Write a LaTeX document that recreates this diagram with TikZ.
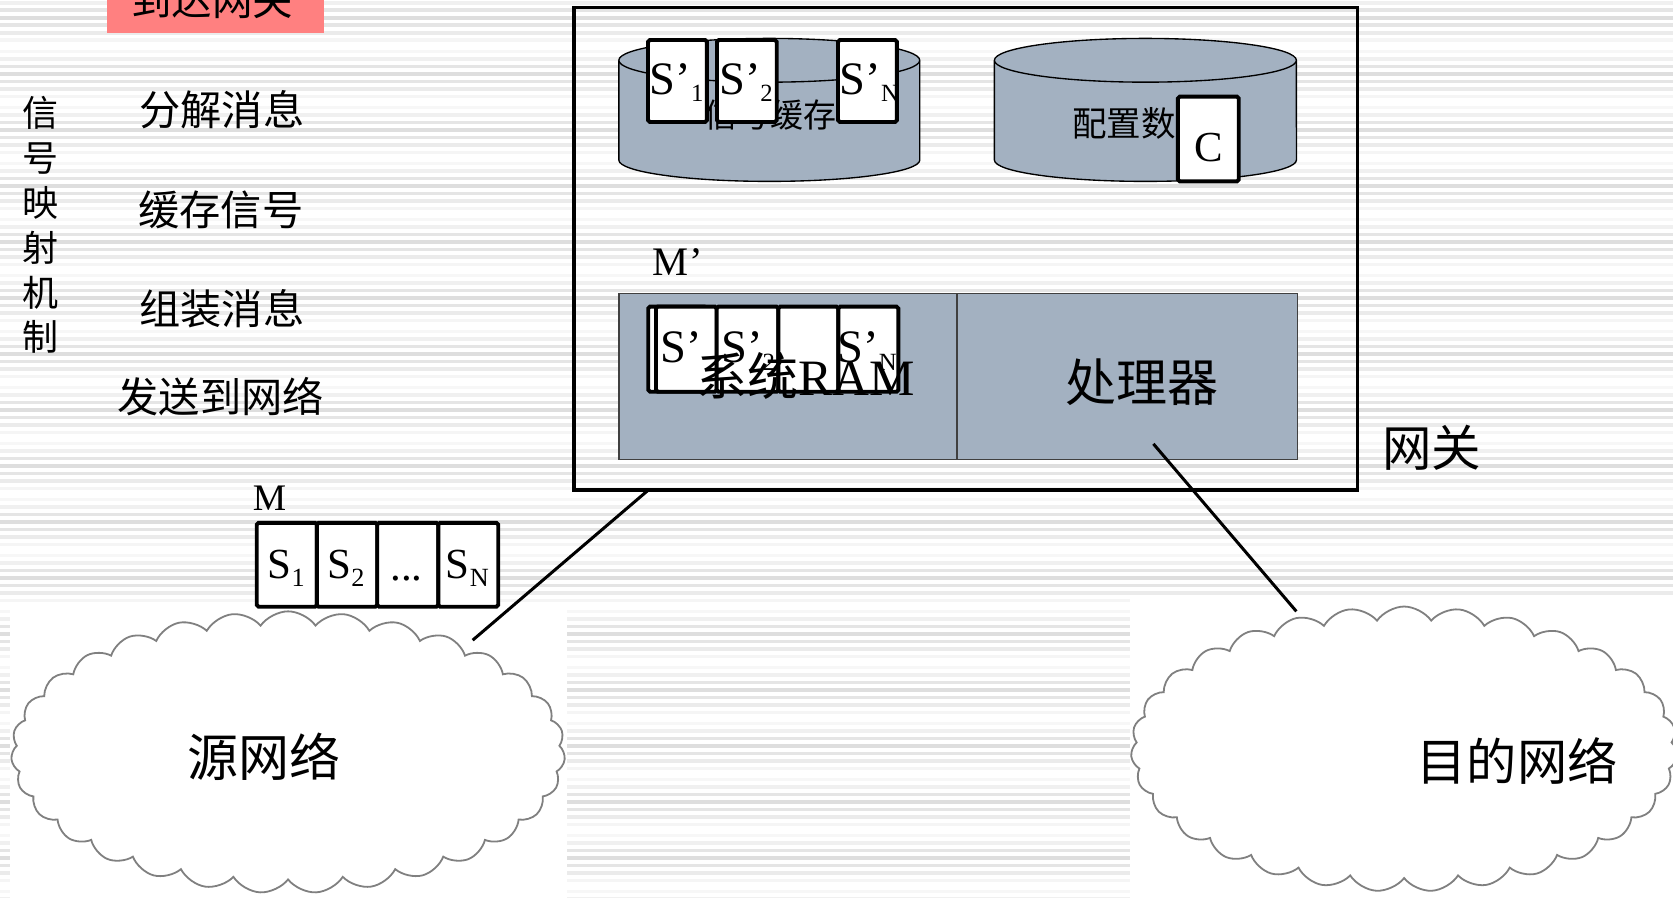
\documentclass[tikz,border=0pt]{standalone}
\usepackage{fontspec}
\setmainfont{Liberation Serif}
\newfontfamily\cjk{Noto Sans CJK SC}
\usetikzlibrary{shapes.symbols}
\definecolor{cylfill}{HTML}{A3B1C1}
\definecolor{redfill}{HTML}{FF8080}
\definecolor{cloudgray}{HTML}{808080}
\newcommand\sz[1]{\fontsize{#1}{#1}\selectfont}
\tikzset{
  lbl/.style={inner sep=0pt, outer sep=0pt},
  cjklbl/.style={lbl, font=\cjk},
  cellbox/.style={draw=black, fill=white, line width=2.6pt, rounded corners=1.2pt, anchor=north west, inner sep=0pt, outer sep=0pt},
  gwframe/.style={draw=black, line width=2.2pt, anchor=north west, inner sep=0pt, outer sep=0pt},
  unitbox/.style={draw=black!75, fill=cylfill, line width=0.9pt, anchor=north west, inner sep=0pt, outer sep=0pt},
  cylline/.style={draw=black, line width=0.9pt},
  link/.style={draw=black, line width=2pt},
  netcloud/.style={cloud, cloud puffs=31, cloud puff arc=110, cloud ignores aspect, draw=cloudgray, line width=1.2pt, fill=white, inner sep=0pt},
}
\begin{document}
\begin{tikzpicture}[x=0.025cm, y=0.025cm]
\useasboundingbox (0,0) rectangle (1568,-841);
% background stripes
\foreach \k in {0,...,16}{
  \foreach \j/\g in {0/3,1/6,2/10,3/13,4/10,5/8,6/4}{
    \pgfmathsetmacro\yy{6.1-52.5*\k-7.03*\j}
    \fill[black!\g] (0,\yy) rectangle (1568,\yy-3.3);
  }
}
\fill[white] (9,-566) rectangle (531,-845);
\fill[white] (1059,-560) rectangle (1570,-845);

% title tab
\fill[redfill] (100,20) rectangle (304,-31);
\node[cjklbl, font=\cjk\sz{27}] (arrive) at (199,-0.5) {到达网关};

% left texts
\node[lbl, font=\cjk\fontsize{24}{29.9}\selectfont, align=center] (mech) at (37.6,-211) {信\\号\\映\\射\\机\\制};
\node[cjklbl, font=\cjk\sz{27.5}] (stepA) at (208,-103) {分解消息};
\node[cjklbl, font=\cjk\sz{27.5}] (stepB) at (207,-197) {缓存信号};
\node[cjklbl, font=\cjk\sz{27.5}] (stepC) at (208,-289) {组装消息};
\node[cjklbl, font=\cjk\sz{27.5}] (stepD) at (207,-372) {发送到网络};

% gateway frame
\node[gwframe, minimum width=18.35cm, minimum height=11.3cm] (gw) at (538,-7) {};

% cylinder 1
\fill[cylfill] (580,-57) -- (580,-150) arc[start angle=180, end angle=360, x radius=3.525cm, y radius=0.5cm] -- (862,-57) -- cycle;
\draw[cylline] (580,-57) -- (580,-150) arc[start angle=180, end angle=360, x radius=3.525cm, y radius=0.5cm] -- (862,-57);
\filldraw[cylline, fill=cylfill] (721,-56.5) ellipse[x radius=3.525cm, y radius=0.5125cm];
\node[cjklbl, font=\cjk\sz{22}] (sigbuf) at (722,-108) {信号缓存};

% cylinder 2
\fill[cylfill] (932,-57) -- (932,-150) arc[start angle=180, end angle=360, x radius=3.5375cm, y radius=0.5cm] -- (1215,-57) -- cycle;
\draw[cylline] (932,-57) -- (932,-150) arc[start angle=180, end angle=360, x radius=3.5375cm, y radius=0.5cm] -- (1215,-57);
\filldraw[cylline, fill=cylfill] (1073.5,-56.5) ellipse[x radius=3.5375cm, y radius=0.5125cm];
\node[cjklbl, font=\cjk\sz{23}] (cfgdata) at (1069.5,-116) {配置数据};

% signal boxes on cylinder
\node[cellbox, minimum width=1.38cm, minimum height=1.92cm] (cb1) at (607.3,-37.5) {};
\node[cellbox, minimum width=1.4cm, minimum height=1.92cm] (cb2) at (672,-37.5) {};
\node[cellbox, minimum width=1.38cm, minimum height=1.92cm] (cbN) at (785.4,-37.5) {};
\node[lbl, anchor=base west, font=\sz{31}] (cb1t) at (609,-89) {S’\raisebox{-4.5pt}{\sz{16.5}1}};
\node[lbl, anchor=base west, font=\sz{31}] (cb2t) at (674,-89) {S’\raisebox{-4.5pt}{\sz{16.5}2}};
\node[lbl, anchor=base west, font=\sz{31}] (cbNt) at (787,-89) {S’\raisebox{-4.5pt}{\sz{16.5}N}};

% config box C
\node[cellbox, minimum width=1.425cm, minimum height=1.985cm] (cbox) at (1104,-90.6) {};
\node[lbl, anchor=base, font=\sz{28.5}] (ctext) at (1132.5,-151.5) {C};

% M'
\node[lbl, anchor=base west, font=\sz{27}] (mprime) at (612,-258) {M’};

% RAM and processor
\node[unitbox, minimum width=7.925cm, minimum height=3.8875cm] (ram) at (580,-275) {};
\node[unitbox, minimum width=7.975cm, minimum height=3.8875cm] (proc) at (897,-275) {};

% signal boxes in RAM
\node[cellbox, minimum width=1.36cm, minimum height=1.9925cm] (rb0) at (607.6,-287.4) {};
\node[cellbox, minimum width=1.4225cm, minimum height=1.9925cm] (rb1) at (614.8,-287.4) {};
\node[cellbox, minimum width=1.445cm, minimum height=1.9925cm] (rb2) at (671.7,-287.4) {};
\node[cellbox, minimum width=1.405cm, minimum height=1.9925cm] (rb3) at (729.5,-287.4) {};
\node[cellbox, minimum width=1.4075cm, minimum height=1.9925cm] (rbN) at (785.7,-287.4) {};
\node[lbl, anchor=base west, font=\sz{31}] (rb1t) at (619,-340) {S’};
\node[lbl, anchor=base west, font=\sz{31}] (rb2t) at (676,-340) {S’\raisebox{-5pt}{\sz{16.5}2}};
\node[lbl, anchor=base west, font=\sz{31}] (rbNt) at (785,-340) {S’\raisebox{-5pt}{\sz{16.5}N}};
\node[lbl, anchor=base, font=\sz{34}] (ramt) at (755,-371) {{\cjk 系统}RAM};
\node[cjklbl, font=\cjk\sz{34}] (proct) at (1070,-358) {处理器};
\node[cjklbl, font=\cjk\sz{33}] (gwt) at (1342,-420) {网关};

% message M
\node[lbl, anchor=base west, font=\sz{25}] (mlabel) at (237,-478) {M};
\node[cellbox, minimum width=1.41cm, minimum height=1.965cm] (m1) at (240.6,-490) {};
\node[cellbox, minimum width=1.415cm, minimum height=1.965cm] (m2) at (297,-490) {};
\node[cellbox, minimum width=1.43cm, minimum height=1.965cm] (m3) at (353.6,-490) {};
\node[cellbox, minimum width=1.405cm, minimum height=1.965cm] (m4) at (410.8,-490) {};
\node[lbl, anchor=base west, font=\sz{28.6}] (m1t) at (251,-542) {S\raisebox{-5.3pt}{\sz{17.5}1}};
\node[lbl, anchor=base west, font=\sz{28.6}] (m2t) at (307,-542) {S\raisebox{-5.3pt}{\sz{17.5}2}};
\node[lbl, anchor=base, font=\sz{28.6}] (m3t) at (381,-544) {...};
\node[lbl, anchor=base west, font=\sz{28.6}] (m4t) at (418,-542) {S\raisebox{-5.3pt}{\sz{17.5}N}};

% links
\coordinate (gwfoot) at (608,-459);
\coordinate (srctop) at (443,-600);
\coordinate (procfoot) at (1081,-416);
\coordinate (dsttop) at (1215,-573);
\draw[link] (gwfoot) -- (srctop);
\draw[link] (procfoot) -- (dsttop);

% clouds
\node[netcloud, minimum width=12.975cm, minimum height=6.6cm] (src) at (270,-705) {};
\node[netcloud, minimum width=12.8cm, minimum height=6.675cm] (dst) at (1316,-702) {};
\node[cjklbl, font=\cjk\sz{34}] (srct) at (247,-709) {源网络};
\node[cjklbl, font=\cjk\sz{33.5}] (dstt) at (1422,-713) {目的网络};
\end{tikzpicture}
\end{document}
